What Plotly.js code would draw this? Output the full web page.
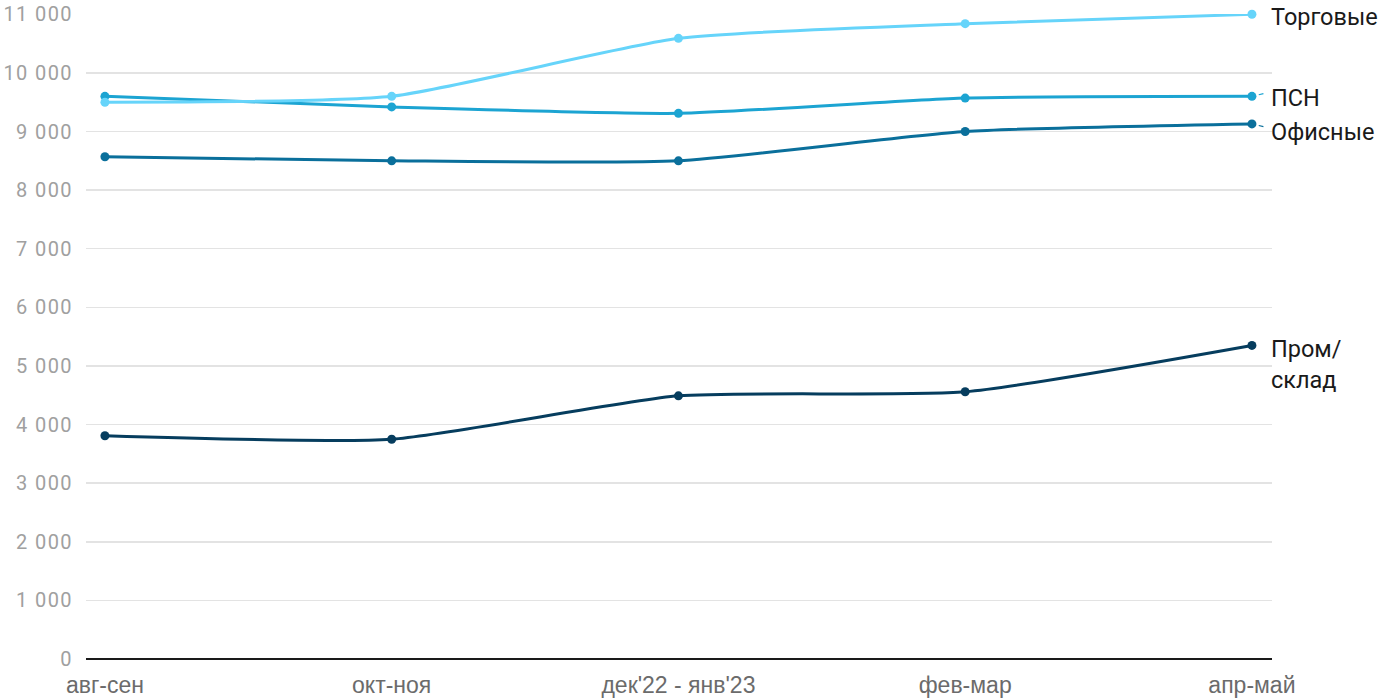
<!DOCTYPE html>
<html><head><meta charset="utf-8">
<script src="https://cdn.plot.ly/plotly-3.0.1.min.js"></script>
<style>html,body{margin:0;padding:0;background:#fff}#chart{width:1400px;height:700px}
#chart .ytick text{letter-spacing:1.4px}</style>
</head><body><div id="chart"></div>
<script>
const categories = ["авг-сен", "окт-ноя", "дек'22 - янв'23", "фев-мар", "апр-май"];
const seriesNames = ["Торговые", "ПСН", "Офисные", "Пром/<br>склад"];
const torgovye = [9500, 9600, 10590, 10840, 11000];
const psn = [9600, 9420, 9310, 9570, 9600];
const ofisnye = [8570, 8500, 8500, 9000, 9130];
const prom = [3810, 3750, 4490, 4560, 5350];
const yTicks = [0,1000,2000,3000,4000,5000,6000,7000,8000,9000,10000,11000];
const yTickText = ["0","1 000","2 000","3 000","4 000","5 000","6 000","7 000","8 000","9 000","10 000","11 000"];

const colors = ["#66d4fa", "#1ca4d2", "#0a6f9b", "#063d5e"];
const seriesData = [torgovye, psn, ofisnye, prom];
const xIdx = categories.map((c,i)=>i);
const order = [3,2,1,0];
const traces = order.map(i => ({
  x: xIdx, y: seriesData[i], type: 'scatter', mode: 'lines+markers',
  line: {color: colors[i], width: 3, shape: 'spline', smoothing: 0.55},
  marker: {color: colors[i], size: 9}, cliponaxis: false,
  name: seriesNames[i], hoverinfo: 'skip'
}));
const yshifts = [-3, -2, -8, -19];
const annotations = seriesData.map((d,i) => ({
  x: 4, y: d[4], xref: 'x', yref: 'y', text: seriesNames[i], showarrow: false,
  xanchor: 'left', yanchor: 'middle', xshift: 17, yshift: yshifts[i], align: 'left',
  font: {family: 'Roboto, Arial, sans-serif', size: 23.5, color: '#1a1a1a'}
}));
// small leader ticks for ПСН and Офисные
[[1, -3], [2, 3]].forEach(([i, ay]) => {
  annotations.push({
    x: 4, y: seriesData[i][4], xref: 'x', yref: 'y', text: '', showarrow: true,
    ax: 13, ay: ay, arrowhead: 0, arrowwidth: 1.2, arrowcolor: colors[i], standoff: 7
  });
});
const layout = {
  width: 1400, height: 700,
  margin: {l: 86, r: 128, t: 14, b: 41},
  paper_bgcolor: '#fff', plot_bgcolor: '#fff',
  showlegend: false,
  xaxis: {
    range: [-0.066, 4.07], tickvals: xIdx, ticktext: categories,
    showgrid: false, zeroline: false, showline: false, ticks: '',
    ticklabelstandoff: 10,
    tickfont: {family: 'Liberation Sans, Arial, sans-serif', size: 23, color: '#6b6b6b'},
    fixedrange: true
  },
  yaxis: {
    range: [0, 11005], tickvals: yTicks, ticktext: yTickText,
    showgrid: true, gridcolor: '#e3e3e3', gridwidth: 1.5,
    zeroline: true, zerolinecolor: '#1a1a1a', zerolinewidth: 2,
    showline: false, ticks: '', ticklabelstandoff: 12,
    tickfont: {family: 'Roboto, sans-serif', size: 20, color: '#a0a0a0'},
    fixedrange: true
  },
  annotations: annotations
};
Plotly.newPlot('chart', traces, layout, {displayModeBar: false, staticPlot: true});
</script></body></html>
